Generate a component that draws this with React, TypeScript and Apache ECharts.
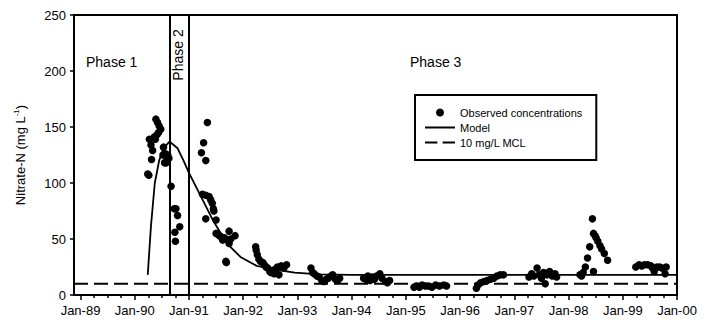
import React, { useEffect, useRef } from "react";
import * as echarts from "echarts";

const FONT = "Liberation Sans, Arial, sans-serif";

// x-axis: decimal years; Jan-89 … Jan-00 tick labels
const tickYears = [1989, 1990, 1991, 1992, 1993, 1994, 1995, 1996, 1997, 1998, 1999, 2000];
const xMin = 1988.88;
const xMax = 2000;

// phase boundaries (vertical lines)
const phaseBoundaries = [1990.64, 1991.0];

// MCL
const mclValue = 10;

// Model curve [year, mg/L]
const modelPoints: [number, number][] = [
  [1990.24, 18], [1990.3, 62], [1990.37, 100], [1990.45, 120], [1990.53, 131], [1990.64, 137],
  [1990.79, 131], [1990.9, 120], [1991.0, 109], [1991.22, 88], [1991.45, 66], [1991.7, 46],
  [1991.95, 34], [1992.25, 26], [1992.55, 23], [1992.95, 20], [1993.4, 18.5], [1994.0, 18],
  [2000.0, 18],
];

// Observed concentrations [year, mg/L]
const observedPoints: [number, number][] = [
  // 1990
  [1990.24, 108], [1990.26, 107], [1990.27, 139], [1990.3, 134], [1990.33, 129], [1990.31, 121],
  [1990.36, 141], [1990.39, 157], [1990.42, 154], [1990.45, 151], [1990.48, 148], [1990.44, 145],
  [1990.41, 143], [1990.38, 139], [1990.53, 132], [1990.52, 125], [1990.55, 118], [1990.58, 118],
  [1990.61, 125], [1990.63, 122], [1990.6, 121], [1990.57, 126],
  [1990.67, 97], [1990.73, 77], [1990.76, 77], [1990.79, 71], [1990.74, 56], [1990.83, 61], [1990.75, 48],
  // 1991
  [1991.23, 127], [1991.27, 136], [1991.31, 120], [1991.34, 154], [1991.25, 90], [1991.31, 89],
  [1991.37, 88], [1991.4, 85], [1991.43, 82], [1991.45, 77], [1991.46, 75], [1991.31, 68],
  [1991.5, 67], [1991.5, 55], [1991.56, 53], [1991.59, 52], [1991.62, 49], [1991.66, 51],
  [1991.74, 57], [1991.77, 50], [1991.85, 53], [1991.74, 46], [1991.68, 30], [1991.69, 29],
  // 1992
  [1992.23, 43], [1992.24, 40], [1992.26, 36], [1992.29, 32], [1992.32, 30], [1992.36, 29],
  [1992.39, 27], [1992.42, 25], [1992.45, 24], [1992.49, 21], [1992.51, 20], [1992.55, 22],
  [1992.57, 19], [1992.6, 23], [1992.63, 25], [1992.66, 18], [1992.7, 26], [1992.75, 24], [1992.8, 27],
  // 1993
  [1993.25, 24], [1993.28, 20], [1993.31, 19], [1993.36, 17], [1993.4, 16], [1993.45, 13],
  [1993.49, 12], [1993.53, 14], [1993.57, 15], [1993.62, 17], [1993.65, 18], [1993.7, 14],
  [1993.74, 13], [1993.78, 15],
  // 1994
  [1994.22, 15], [1994.26, 14], [1994.3, 17], [1994.34, 13], [1994.38, 16], [1994.42, 14],
  [1994.46, 17], [1994.52, 19], [1994.56, 15], [1994.62, 12], [1994.66, 11], [1994.7, 13],
  // 1995
  [1995.15, 7], [1995.2, 8], [1995.25, 7], [1995.3, 9], [1995.36, 8], [1995.42, 8],
  [1995.48, 7], [1995.55, 9], [1995.62, 8], [1995.7, 9], [1995.75, 8],
  // 1996
  [1996.3, 6], [1996.33, 9], [1996.38, 11], [1996.44, 12], [1996.5, 13], [1996.56, 14],
  [1996.62, 15], [1996.68, 17], [1996.74, 18], [1996.8, 18],
  // 1997
  [1997.27, 16], [1997.32, 19], [1997.36, 17], [1997.42, 24], [1997.46, 18], [1997.5, 15],
  [1997.54, 20], [1997.57, 10], [1997.6, 18], [1997.65, 21], [1997.7, 17], [1997.75, 19], [1997.78, 16],
  // 1998
  [1998.21, 18], [1998.24, 17], [1998.27, 20], [1998.31, 25], [1998.35, 33], [1998.39, 43],
  [1998.44, 68], [1998.46, 55], [1998.49, 53], [1998.51, 51], [1998.54, 48], [1998.58, 44],
  [1998.61, 41], [1998.66, 37], [1998.72, 31], [1998.46, 21],
  // 1999
  [1999.24, 25], [1999.3, 27], [1999.35, 26], [1999.4, 27], [1999.46, 27], [1999.52, 26],
  [1999.55, 24], [1999.58, 21], [1999.63, 25], [1999.68, 25], [1999.72, 24], [1999.78, 19], [1999.8, 25],
];

const minorTicks: number[] = [];
tickYears.slice(0, -1).forEach((y) => {
  minorTicks.push(y + 0.25, y + 0.5, y + 0.75);
});

const SOLID_ICON = "path://M0,0H30V2H0Z";
const DASHED_ICON = "path://M0,0H12V2H0Z M17,0H29V2H17Z";

export default function App() {
  const ref = useRef<HTMLDivElement>(null);
  useEffect(() => {
    if (!ref.current) return;
    const chart = echarts.init(ref.current, undefined, { renderer: "svg" });
    chart.setOption({
      animation: false,
      backgroundColor: "#fff",
      textStyle: { fontFamily: FONT, color: "#000" },
      grid: {
        left: 74,
        right: 37,
        top: 15,
        bottom: 29,
        show: true,
        borderColor: "#000",
        borderWidth: 2,
        backgroundColor: "transparent",
      },
      legend: {
        orient: "vertical",
        left: 415,
        top: 95,
        padding: [12, 14, 12, 10],
        itemGap: 4,
        itemWidth: 30,
        itemHeight: 8,
        borderColor: "#000",
        borderWidth: 2,
        backgroundColor: "#fff",
        textStyle: { fontSize: 11, color: "#000", fontFamily: FONT },
        itemStyle: { color: "#000", opacity: 1 },
        data: [
          { name: "Observed concentrations", icon: "circle" },
          { name: "Model", icon: SOLID_ICON },
          { name: "10 mg/L MCL", icon: DASHED_ICON },
        ],
      },
      xAxis: [
        {
          type: "value",
          min: xMin,
          max: xMax,
          position: "bottom",
          axisLine: { show: true, lineStyle: { color: "#000", width: 2 } },
          axisTick: {
            show: true,
            customValues: tickYears,
            length: 5,
            lineStyle: { color: "#000", width: 1.5 },
          },
          axisLabel: {
            customValues: tickYears,
            formatter: (v: number) => "Jan-" + String(Math.round(v) % 100).padStart(2, "0"),
            fontSize: 13,
            color: "#000",
            fontFamily: FONT,
            margin: 9,
          },
          splitLine: { show: false },
        },
        {
          type: "value",
          min: xMin,
          max: xMax,
          position: "bottom",
          axisLine: { show: false },
          axisTick: {
            show: true,
            customValues: minorTicks,
            length: 3,
            lineStyle: { color: "#000", width: 1.5 },
          },
          axisLabel: { show: false },
          splitLine: { show: false },
        },
      ],
      yAxis: {
        type: "value",
        min: 0,
        max: 250,
        interval: 50,
        axisLine: { show: true, lineStyle: { color: "#000", width: 2 } },
        axisTick: { show: true, length: 4, lineStyle: { color: "#000", width: 1.5 } },
        axisLabel: { fontSize: 13, color: "#000", fontFamily: FONT, margin: 8 },
        splitLine: { show: false },
        name: "Nitrate-N (mg L{sup|-1})",
        nameLocation: "middle",
        nameRotate: 90,
        nameGap: 46,
        nameTextStyle: {
          fontSize: 13,
          color: "#000",
          fontFamily: FONT,
          lineHeight: 16,
          rich: {
            sup: { fontSize: 8, verticalAlign: "top", lineHeight: 16, fontFamily: FONT, color: "#000" },
          },
        },
      },
      graphic: [
        {
          type: "text",
          x: 86,
          y: 62,
          style: { text: "Phase 1", font: `14px ${FONT}`, fill: "#000", textVerticalAlign: "middle" },
        },
        {
          type: "text",
          x: 178,
          y: 55,
          rotation: Math.PI / 2,
          style: {
            text: "Phase 2",
            font: `14px ${FONT}`,
            fill: "#000",
            textAlign: "center",
            textVerticalAlign: "middle",
          },
        },
        {
          type: "text",
          x: 410,
          y: 62,
          style: { text: "Phase 3", font: `14px ${FONT}`, fill: "#000", textVerticalAlign: "middle" },
        },
      ],
      series: [
        {
          name: "Observed concentrations",
          type: "scatter",
          data: observedPoints,
          symbol: "circle",
          symbolSize: 7.5,
          itemStyle: { color: "#000", opacity: 1 },
          z: 4,
        },
        {
          name: "Model",
          type: "line",
          data: modelPoints,
          symbol: "none",
          lineStyle: { color: "#000", width: 1.8 },
          itemStyle: { color: "#000" },
          z: 3,
          markLine: {
            silent: true,
            symbol: ["none", "none"],
            label: { show: false },
            lineStyle: { color: "#000", width: 2, type: "solid" },
            data: phaseBoundaries.map((x) => ({ xAxis: x })),
          },
        },
        {
          name: "10 mg/L MCL",
          type: "line",
          data: [
            [xMin, mclValue],
            [xMax, mclValue],
          ],
          symbol: "none",
          lineStyle: { color: "#000", width: 2, type: [14, 6] },
          itemStyle: { color: "#000" },
          z: 2,
        },
      ],
    });
    return () => chart.dispose();
  }, []);
  return (
    <div
      ref={ref}
      style={{ position: "fixed", left: 0, top: 0, width: 714, height: 324, background: "#fff" }}
    />
  );
}
